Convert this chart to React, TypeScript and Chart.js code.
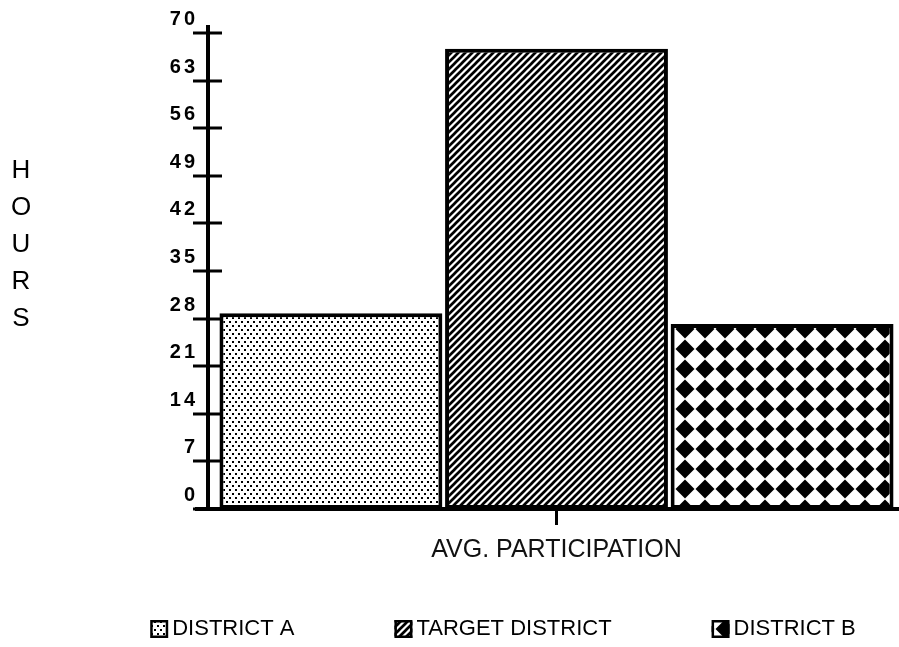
import React, { useEffect, useRef } from "react";
import { Chart, registerables } from "chart.js";

Chart.register(...registerables);

const categories = ["AVG. PARTICIPATION"];
const seriesLabels = ["DISTRICT A", "TARGET DISTRICT", "DISTRICT B"];
const districtA = [28.8];
const targetDistrict = [67.7];
const districtB = [27.2];
const yTickValues = [0, 7, 14, 21, 28, 35, 42, 49, 56, 63, 70];
const yAxisTitle = "HOURS";

function makeTile(w: number, h: number, draw: (c: CanvasRenderingContext2D) => void) {
  const c = document.createElement("canvas");
  c.width = w;
  c.height = h;
  const g = c.getContext("2d")!;
  g.fillStyle = "#fff";
  g.fillRect(0, 0, w, h);
  g.fillStyle = "#000";
  g.strokeStyle = "#000";
  draw(g);
  return c;
}

function makePatterns(ctx: CanvasRenderingContext2D) {
  const dots = makeTile(6, 8, (g) => {
    g.fillRect(1, 1, 2, 2);
    g.fillRect(4, 5, 2, 2);
  });
  const hatch = makeTile(7, 7, (g) => {
    g.lineWidth = 2.7;
    g.beginPath();
    g.moveTo(-1, 8);
    g.lineTo(8, -1);
    g.moveTo(-8, 8);
    g.lineTo(1, -1);
    g.moveTo(6, 8);
    g.lineTo(15, -1);
    g.stroke();
  });
  const diamonds = makeTile(20, 20, (g) => {
    g.beginPath();
    g.moveTo(10, 0.5);
    g.lineTo(19.5, 10);
    g.lineTo(10, 19.5);
    g.lineTo(0.5, 10);
    g.closePath();
    g.fill();
  });
  const pA = ctx.createPattern(dots, "repeat")!;
  const pT = ctx.createPattern(hatch, "repeat")!;
  const pB = ctx.createPattern(diamonds, "repeat")!;
  try {
    pB.setTransform(new DOMMatrix().translate(-5, -1));
  } catch (e) {}
  return [pA, pT, pB];
}

// the drawn y axis sits this many pixels left of the plot area's inner edge
const AXIS_INSET = 6;

export default function App() {
  const ref = useRef<HTMLCanvasElement | null>(null);

  useEffect(() => {
    const canvas = ref.current!;
    const ctx0 = canvas.getContext("2d")!;
    const patterns = makePatterns(ctx0);
    const values = [districtA, targetDistrict, districtB];

    const decor = {
      id: "decor",
      afterDraw(chart: any) {
        const ctx: CanvasRenderingContext2D = chart.ctx;
        const { right, bottom } = chart.chartArea;
        const left = chart.chartArea.left - AXIS_INSET;
        const ys = chart.scales.y;
        const xs = chart.scales.x;
        ctx.save();
        ctx.strokeStyle = "#000";
        ctx.fillStyle = "#000";
        ctx.lineWidth = 4;
        ctx.lineCap = "butt";
        // y axis line
        ctx.beginPath();
        ctx.moveTo(left, ys.getPixelForValue(70) - 8);
        ctx.lineTo(left, bottom + 2);
        ctx.stroke();
        // x axis line
        ctx.beginPath();
        ctx.moveTo(left - 13, bottom);
        ctx.lineTo(right, bottom);
        ctx.stroke();
        // y ticks crossing the axis
        ctx.lineWidth = 3;
        ctx.font = "bold 20px 'Liberation Sans', Arial, sans-serif";
        (ctx as any).letterSpacing = "3px";
        ctx.textAlign = "right";
        ctx.textBaseline = "middle";
        yTickValues.forEach((v) => {
          const py = Math.round(ys.getPixelForValue(v));
          ctx.beginPath();
          ctx.moveTo(left - 15, py);
          ctx.lineTo(left + 14, py);
          ctx.stroke();
          ctx.fillText(String(v), left - 10, py - 14);
        });
        (ctx as any).letterSpacing = "0px";
        // category tick
        const cx = xs.getPixelForValue(0);
        ctx.lineWidth = 3;
        ctx.beginPath();
        ctx.moveTo(cx, bottom);
        ctx.lineTo(cx, bottom + 16);
        ctx.stroke();
        // vertical stacked title
        ctx.font = "26px 'Liberation Sans', Arial, sans-serif";
        ctx.textAlign = "center";
        ctx.textBaseline = "middle";
        yAxisTitle.split("").forEach((ch, i) => {
          ctx.fillText(ch, 21, 171 + i * 37);
        });
        // legend
        ctx.font = "22px 'Liberation Sans', Arial, sans-serif";
        ctx.textAlign = "left";
        const box = 18;
        const gapText = 4;
        const gapItem = 100;
        const ds = chart.data.datasets;
        const widths = ds.map((d: any) => box + gapText + ctx.measureText(d.label).width);
        const total = widths.reduce((a: number, b: number) => a + b, 0) + gapItem * (ds.length - 1);
        let x = 503 - total / 2;
        const ly = 629;
        ds.forEach((d: any, i: number) => {
          ctx.fillStyle = d.backgroundColor;
          ctx.fillRect(x, ly - box / 2, box, box);
          ctx.lineWidth = 2.5;
          ctx.strokeStyle = "#000";
          ctx.strokeRect(x + 1.25, ly - box / 2 + 1.25, box - 2.5, box - 2.5);
          ctx.fillStyle = "#000";
          ctx.fillText(d.label, x + box + gapText, ly);
          x += widths[i] + gapItem;
        });
        ctx.restore();
      },
    };

    const chart = new Chart(canvas, {
      type: "bar",
      data: {
        labels: categories,
        datasets: seriesLabels.map((label, i) => ({
          label,
          data: values[i],
          backgroundColor: patterns[i] as any,
          borderColor: "#000",
          borderWidth: 4,
          borderSkipped: false,
          categoryPercentage: 0.988,
          barPercentage: 0.988,
        })),
      },
      options: {
        responsive: false,
        animation: false,
        devicePixelRatio: 1,
        layout: { padding: { left: 0, right: 0, top: 33, bottom: 75 } },
        plugins: {
          legend: { display: false },
          tooltip: { enabled: false },
        },
        scales: {
          x: {
            offset: true,
            grid: { display: false },
            border: { display: false },
            ticks: { display: false },
            title: {
              display: true,
              text: categories[0],
              color: "#111",
              font: { family: "'Liberation Sans', Arial, sans-serif", size: 25 },
              padding: { top: 0, bottom: 7 },
            },
            afterFit: (s: any) => {
              s.height = 63;
            },
          },
          y: {
            min: 0,
            max: 70,
            ticks: { display: false, stepSize: 7 },
            grid: { display: false },
            border: { display: false },
            afterFit: (s: any) => {
              s.width = 214;
            },
          },
        },
      },
      plugins: [decor],
    });
    return () => chart.destroy();
  }, []);

  return (
    <div style={{ position: "absolute", left: 0, top: 0, width: 899, height: 647, background: "#fff", overflow: "hidden" }}>
      <canvas ref={ref} width={899} height={647} />
    </div>
  );
}
